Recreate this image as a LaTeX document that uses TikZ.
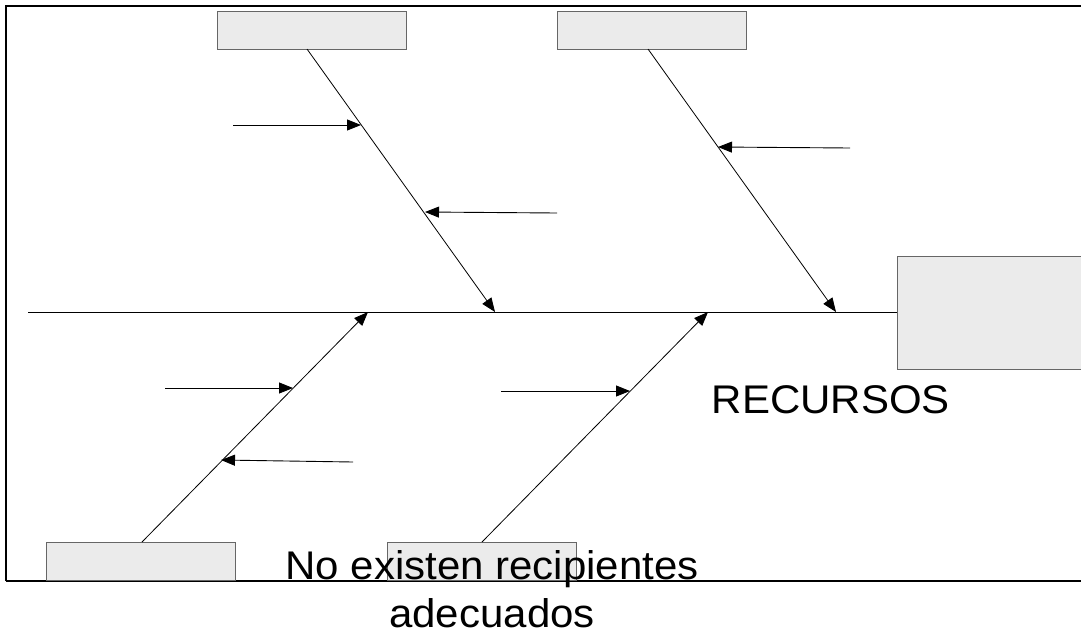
\documentclass[tikz,border=0pt]{standalone}
\usepackage{fontspec}
\setmainfont{Liberation Sans}
\usetikzlibrary{arrows.meta}
\begin{document}
\begin{tikzpicture}[x=1pt,y=-1pt,
  box/.style={draw=black!60,fill=black!8,line width=1pt,minimum width=189pt,minimum height=38pt,inner sep=0pt,anchor=north west},
  bone/.style={line width=0.8pt,-{Triangle[length=14pt,width=11pt]}},
  twig/.style={line width=0.9pt,-{Triangle[length=14pt,width=11pt]}},
  lbl/.style={font=\fontsize{40}{48}\selectfont,inner sep=0pt}]
\useasboundingbox (0,0) rectangle (1081,635);
\fill[white] (0,0) rectangle (1081,635);
% frame
\draw[line width=2.8pt] (6,581) -- (6,6) -- (1095,6);
\draw[line width=2.8pt] (6,581) -- (1095,581);
% boxes
\node[box] (tl) at (217,11) {};
\node[box] (tr) at (557,11) {};
\node[box] (bl) at (46,542) {};
\node[box] (bm) at (387,542) {};
\node[box,minimum width=200pt,minimum height=113pt] (eff) at (897,256) {};
% spine
\coordinate (s0) at (28,312);
\draw[line width=0.9pt] (s0) -- (eff.west |- s0);
% bone end points on spine
\coordinate (p1) at (495,312);
\coordinate (p2) at (836,312);
\coordinate (p3) at (368,312);
\coordinate (p4) at (708,312);
\coordinate (t1) at (307,49);
\coordinate (t2) at (648,49);
\coordinate (t3) at (142,542);
\coordinate (t4) at (482,542);
\draw[bone] (t1) -- (p1);
\draw[bone] (t2) -- (p2);
\draw[bone] (t3) -- (p3);
\draw[bone] (t4) -- (p4);
% twigs
\draw[twig] (233,125) coordinate (a1s) -- (361,125) coordinate (a1e);
\draw[twig] (557,213) coordinate (a2s) -- (425,212) coordinate (a2e);
\draw[twig] (850,148) coordinate (a3s) -- (718,147) coordinate (a3e);
\draw[twig] (165,388) coordinate (a4s) -- (293,388) coordinate (a4e);
\draw[twig] (353,462) coordinate (a5s) -- (221,460) coordinate (a5e);
\draw[twig] (501,391) coordinate (a6s) -- (630,391) coordinate (a6e);
% labels
\node[lbl,anchor=base] (rec) at (831,413) {\scalebox{1.05}[1]{RECURSOS}};
\node[lbl,anchor=base] (ne1) at (492,579) {\scalebox{1.05}[1]{No existen recipientes}};
\node[lbl,anchor=base] (ne2) at (492,627) {\scalebox{1.05}[1]{adecuados}};
\end{tikzpicture}
\end{document}
